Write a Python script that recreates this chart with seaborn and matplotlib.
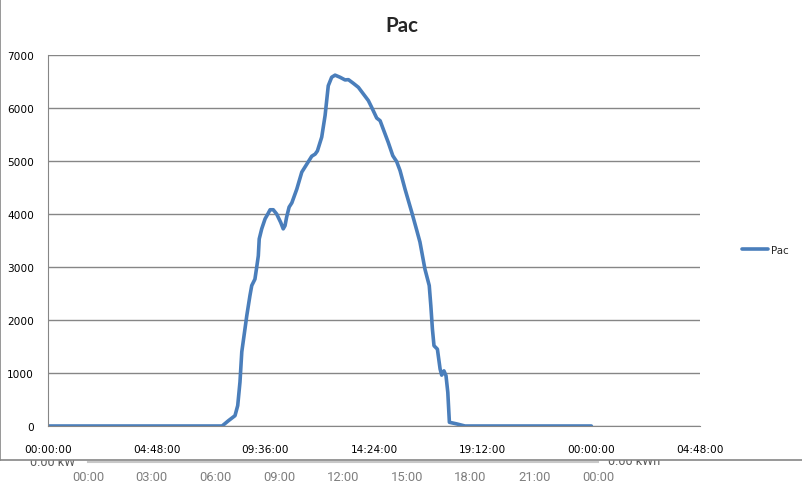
import numpy as np
import pandas as pd
import matplotlib
matplotlib.use("Agg")
import matplotlib.pyplot as plt
import matplotlib.ticker as mticker
from matplotlib.lines import Line2D
import seaborn as sns


## data (hours since midnight, Pac in W)
hours = [0.0, 7.69, 7.97, 8.26, 8.38, 8.48, 8.56, 8.70, 8.78, 8.92, 9.00, 9.14,
         9.22, 9.29, 9.33, 9.44, 9.59, 9.71, 9.81, 9.95, 10.10, 10.28, 10.39,
         10.47, 10.54, 10.65, 10.77, 10.99, 11.21, 11.43, 11.65, 11.80, 11.90,
         12.09, 12.24, 12.38, 12.53, 12.68, 12.90, 13.12, 13.27, 13.49, 13.71,
         13.93, 14.15, 14.30, 14.52, 14.67, 14.81, 15.03, 15.23, 15.40, 15.55,
         15.77, 16.07, 16.29, 16.43, 16.65, 16.84, 16.91, 16.98, 17.05, 17.20,
         17.32, 17.39, 17.49, 17.58, 17.66, 17.73, 18.05, 18.42, 24.0]
pac = [0, 0, 100, 195, 385, 830, 1400, 1830, 2080, 2460, 2650, 2770,
       3000, 3210, 3530, 3720, 3910, 4000, 4080, 4080, 4000, 3840, 3720,
       3780, 3940, 4130, 4210, 4470, 4790, 4940, 5090, 5130, 5190,
       5450, 5860, 6420, 6580, 6620, 6580, 6530, 6535, 6465, 6390,
       6265, 6140, 6010, 5810, 5760, 5600, 5350, 5100, 4990, 4820,
       4470, 4030, 3690, 3470, 2960, 2650, 2270, 1830, 1515, 1450,
       1075, 960, 1040, 950, 635, 70, 40, 0, 0]

main_ticks = ["00:00:00", "04:48:00", "09:36:00", "14:24:00", "19:12:00", "00:00:00", "04:48:00"]
lower_ticks = ["00:00", "03:00", "06:00", "09:00", "12:00", "15:00", "18:00", "21:00", "00:00"]

df = pd.DataFrame({"hours": hours, "Pac": pac})

sns.set_style("white")
plt.rcParams['font.family'] = ['DejaVu Sans']

W, H = 803, 489
fig = plt.figure(figsize=(W / 100, H / 100), dpi=100)
fig.patch.set_facecolor("white")

def fx(px):
    return px / W

def fy(py):
    return 1 - py / H

grey = "#868686"

## peek of the chart underneath (mostly hidden by the main chart)
fig.text(fx(30), fy(466), "0.00 kW", fontsize=9, color="#595959", family="Roboto",
         va="baseline", ha="left", zorder=0.2)
fig.text(fx(608), fy(465), "0.00 kWh", fontsize=9, color="#595959", family="Roboto",
         va="baseline", ha="left", zorder=0.2)

ax2 = fig.add_axes([fx(88), fy(463), fx(598 - 88), 0.001], zorder=0.3)
ax2.set_xlim(0, 24)
ax2.patch.set_alpha(0)
for s in ["top", "left", "right"]:
    ax2.spines[s].set_visible(False)
ax2.spines["bottom"].set_color("#c8c8c8")
ax2.spines["bottom"].set_linewidth(1.5)
ax2.set_yticks([])
ax2.set_xticks(np.arange(0, 25, 3))
ax2.set_xticklabels(lower_ticks, family="Roboto", fontsize=9.4, color="#7f7f7f")
ax2.tick_params(axis="x", direction="in", length=3, color="#c8c8c8", pad=6)

## main chart frame, drawn as an axes so it covers the text below
axf = fig.add_axes([0, fy(461), 1, 1 - fy(461)], zorder=0.5)
axf.set_facecolor("white")
axf.set_xticks([])
axf.set_yticks([])
for s in axf.spines.values():
    s.set_color(grey)
    s.set_linewidth(1.2)

ax = fig.add_axes([fx(48), fy(427), fx(700 - 48), fy(56) - fy(427)], zorder=1)
sns.lineplot(data=df, x="hours", y="Pac", ax=ax, color="#4a7ebb", linewidth=2.6,
             estimator=None, label="Pac", legend=False)

ax.set_xlim(0, 28.8)
ax.set_ylim(0, 7000)
ax.set_xticks(np.arange(0, 28.81, 4.8))
ax.set_xticklabels(main_ticks)
ax.set_yticks(np.arange(0, 7001, 1000))
ax.yaxis.set_major_formatter(mticker.FormatStrFormatter("%d"))
ax.set_xlabel("")
ax.set_ylabel("")
ax.grid(axis="y", color=grey, linewidth=1)
ax.grid(axis="x", visible=False)
ax.spines["top"].set_visible(False)
ax.spines["right"].set_visible(False)
ax.spines["left"].set_color(grey)
ax.spines["bottom"].set_color(grey)
ax.tick_params(axis="both", labelsize=7.6, colors="black", length=5, width=1,
               direction="out")
ax.tick_params(axis="x", color=grey, pad=8)
ax.tick_params(axis="y", color=grey, pad=5)
ax.set_axisbelow(True)

fig.text(0.5, fy(32), "Pac", fontsize=14.8, fontweight="bold", family="Lato",
         ha="center", va="baseline", zorder=2)

handle = Line2D([], [], color="#4a7ebb", linewidth=2.6)
fig.legend([handle], ["Pac"], loc="center left", bbox_to_anchor=(fx(738), fy(251)),
           frameon=False, fontsize=7.4, handlelength=2.5, handletextpad=0.3,
           borderaxespad=0)

fig.savefig("out.png", dpi=100)
